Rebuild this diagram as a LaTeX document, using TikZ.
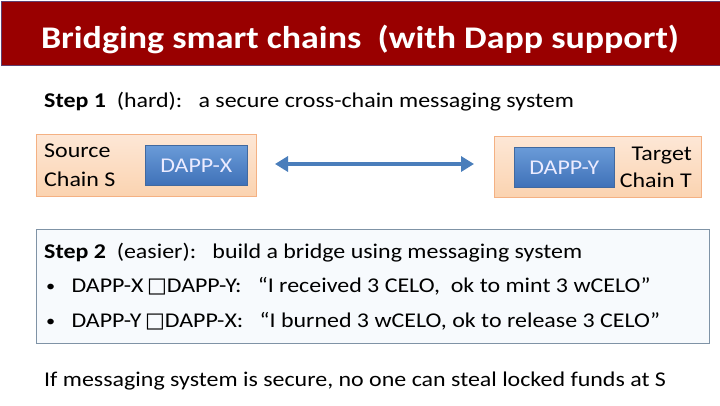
\documentclass[tikz,border=0pt]{standalone}
\usepackage{fontspec}
\setmainfont{Carlito}[FakeStretch=1.14]
\newfontfamily\symfont{DejaVu Sans}
\usetikzlibrary{arrows.meta}
\definecolor{titlered}{HTML}{990000}
\definecolor{titleedge}{HTML}{5E4070}
\definecolor{peach}{HTML}{FBD3B0}
\definecolor{peachlight}{HTML}{FDE7D6}
\definecolor{peachedge}{HTML}{F4B183}
\definecolor{dappdark}{HTML}{3F71B8}
\definecolor{dapplight}{HTML}{6A9BD8}
\definecolor{dappedge}{HTML}{41699F}
\definecolor{arrowblue}{HTML}{4A7EBB}
\definecolor{boxedge}{HTML}{7F93A6}
\definecolor{boxfill}{HTML}{F7FAFD}
\newcommand{\missingglyph}{{\symfont\fontsize{21}{24}\selectfont\char"25A1}}
\newcommand{\smallbullet}{\raisebox{0.5pt}{\fontsize{16}{20}\selectfont•}}
\tikzset{
  x=1pt, y=-1pt,
  chainbox/.style={draw=peachedge, line width=0.8pt, top color=peachlight, bottom color=peach, shading angle=0},
  dappbox/.style={draw=dappedge, line width=0.6pt, top color=dapplight, bottom color=dappdark, text=white!92!blue, font=\fontsize{21}{25}\selectfont},
  bodytext/.style={font=\fontsize{21}{25}\selectfont, inner sep=0pt, anchor=base west},
}
\begin{document}
\begin{tikzpicture}
\useasboundingbox (0,0) rectangle (720,405);
% title bar
\node[draw=titleedge, line width=1.2pt, fill=titlered, minimum width=720pt, minimum height=64pt, inner sep=0pt, anchor=north west] (title) at (0.6,0.6) {};
\node[text=white, font=\bfseries\fontsize{31.5}{38}\selectfont, anchor=base, inner sep=0pt] (titletext) at (360,48) {Bridging smart chains\ \ (with Dapp support)};
% step 1
\node[bodytext] (step1) at (44,107) {\textbf{Step 1}\ \ (hard):\ \ \ a secure cross-chain messaging system};
% source chain
\node[chainbox, minimum width=220pt, minimum height=62pt, anchor=north west, inner sep=0pt] (src) at (36,134) {};
\node[bodytext, align=left, anchor=north west, font=\fontsize{21}{29}\selectfont] (srclabel) at (44,144) {Source\\Chain S};
\node[dappbox, minimum width=102pt, minimum height=40pt, anchor=north west, inner sep=0pt] (dappx) at (145,145) {DAPP-X};
% target chain
\node[chainbox, minimum width=207pt, minimum height=61pt, anchor=north west, inner sep=0pt] (tgt) at (494,136) {};
\node[bodytext, align=right, anchor=north east, font=\fontsize{21}{27}\selectfont] (tgtlabel) at (692,147) {Target\\Chain T};
\node[dappbox, minimum width=100pt, minimum height=40pt, anchor=north west, inner sep=0pt] (dappy) at (514,147) {DAPP-Y};
% arrow
\coordinate (al) at (275,164);
\coordinate (ar) at (474,164);
\draw[arrowblue, line width=4.5pt, {Triangle[length=13pt,width=15pt]}-{Triangle[length=13pt,width=15pt]}] (al) -- (ar);
% step 2 box
\node[draw=boxedge, line width=0.9pt, fill=boxfill, minimum width=673pt, minimum height=114pt, anchor=north west, inner sep=0pt] (step2box) at (36,229) {};
\node[bodytext] (step2) at (44,258) {\textbf{Step 2}\ \ (easier):\ \ \ build a bridge using messaging system};
\node[bodytext] (b1) at (46,292) {\smallbullet\ \ \ DAPP-X\,\missingglyph DAPP-Y:\ \ \ “I received 3 CELO,\ \ ok to mint 3 wCELO”};
\node[bodytext] (b2) at (46,327) {\smallbullet\ \ \ DAPP-Y\,\missingglyph DAPP-X:\ \ \ “I burned 3 wCELO, ok to release 3 CELO”};
% bottom line
\node[bodytext] (concl) at (44,386) {If messaging system is secure, no one can steal locked funds at S};
\end{tikzpicture}
\end{document}
